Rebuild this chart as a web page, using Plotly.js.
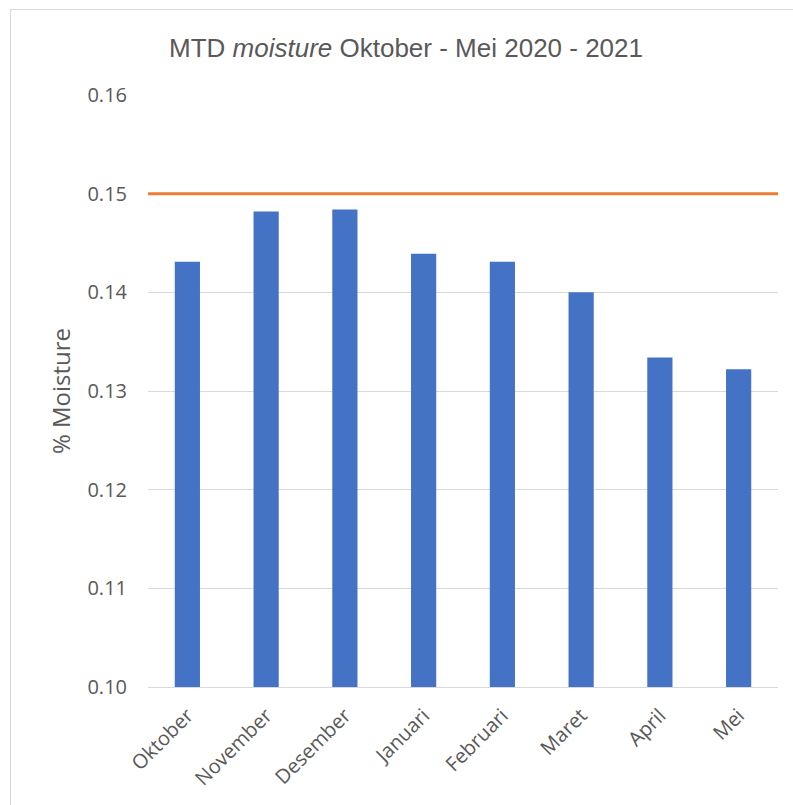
<!DOCTYPE html>
<html>
<head>
<meta charset="utf-8">
<script src="https://cdn.plot.ly/plotly-3.0.1.min.js"></script>
<style>
html,body{margin:0;padding:0;background:#fff;overflow:hidden;}
#frame{position:absolute;left:10px;top:9px;width:800px;height:810px;border:1.5px solid #d9d9d9;box-sizing:border-box;pointer-events:none;z-index:5;}
#chart{position:absolute;left:0;top:0;width:793px;height:805px;}
</style>
</head>
<body>
<div id="chart"></div>
<div id="frame"></div>
<script>
const months = ["Oktober","November","Desember","Januari","Februari","Maret","April","Mei"];
const moisture = [0.1431, 0.1482, 0.1484, 0.1439, 0.1431, 0.1400, 0.1334, 0.1322];
const limitX = [0, 1];
const limitY = [0.15, 0.15];
const yTicks = [0.10, 0.11, 0.12, 0.13, 0.14, 0.15, 0.16];
const yTickText = ["0.10","0.11","0.12","0.13","0.14","0.15","0.16"];

const tickFont = {family: "Open Sans, Noto Sans, sans-serif", size: 20, color: "#595959"};

const traces = [
  {
    type: "bar", x: months, y: moisture,
    marker: {color: "#4472C4"}, width: 0.32,
    hoverinfo: "x+y", showlegend: false
  },
  {
    type: "scatter", mode: "lines", x: limitX, y: limitY,
    xaxis: "x2", yaxis: "y",
    line: {color: "#ED7D31", width: 3},
    showlegend: false, hoverinfo: "skip"
  }
];

const layout = {
  width: 793, height: 805,
  margin: {l: 148, r: 15, t: 95, b: 118},
  paper_bgcolor: "#fff", plot_bgcolor: "#fff",
  showlegend: false,
  title: {
    text: "MTD <i>moisture</i> Oktober - Mei 2020 - 2021",
    font: {family: "Liberation Sans, Arial, sans-serif", size: 26, color: "#595959"},
    x: 0.512, xanchor: "center", y: 0.941, yanchor: "middle"
  },
  xaxis: {
    type: "category", range: [-0.5, 7.5],
    showgrid: false, zeroline: false,
    showline: true, linecolor: "#d9d9d9", linewidth: 1,
    ticks: "", tickangle: -45, tickfont: tickFont, ticklabelstandoff: 8,
    fixedrange: true
  },
  xaxis2: {
    overlaying: "x", range: [0, 1], visible: false, fixedrange: true
  },
  yaxis: {
    range: [0.10, 0.16],
    tickvals: yTicks, ticktext: yTickText,
    showgrid: true, gridcolor: "#d9d9d9", gridwidth: 1,
    zeroline: false, showline: false, ticks: "",
    tickfont: tickFont, ticklabelstandoff: 20,
    title: {text: "% Moisture", font: {family: "Open Sans, Noto Sans, sans-serif", size: 24, color: "#595959"}, standoff: 10},
    fixedrange: true
  },
  bargap: 0.68
};

Plotly.newPlot("chart", traces, layout, {displayModeBar: false, staticPlot: true});
</script>
</body>
</html>
